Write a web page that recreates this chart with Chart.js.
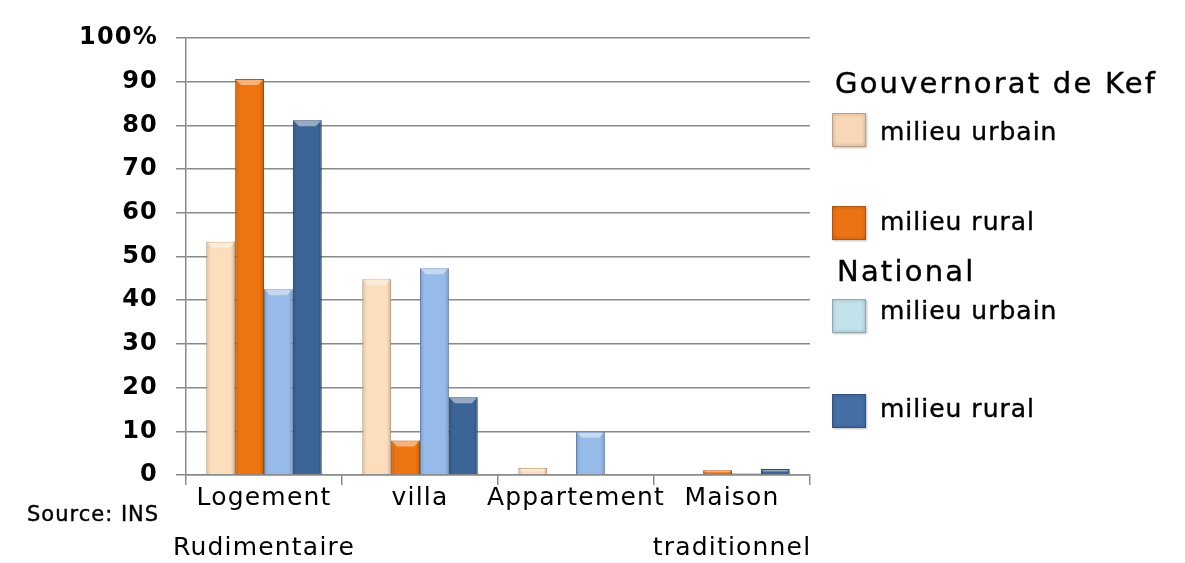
<!DOCTYPE html>
<html>
<head>
<meta charset="utf-8">
<script src="https://cdn.jsdelivr.net/npm/chart.js@4"></script>
<style>
  body { margin: 0; background: #fff; }
  #wrap { position: relative; width: 1185px; height: 563px; }
  #myChart { position: absolute; left: 0; top: 0; }
  .txt { position: absolute; color: #000; font-family: "DejaVu Sans", sans-serif; white-space: nowrap; -webkit-text-stroke: 0.4px #000; }
  .head { font-size: 29px; letter-spacing: 2.2px; }
  .item { font-size: 25px; letter-spacing: 1px; }
  .sw { position: absolute; width: 34px; height: 34px; box-sizing: border-box; border: 1px solid rgba(0,0,0,0.25);
        box-shadow: inset 0 0 4px rgba(0,0,0,0.2), 1px 1px 2px rgba(0,0,0,0.25); }
  #source { left: 27px; top: 502px; font-size: 21px; letter-spacing: 1px; }
</style>
</head>
<body>
<div id="wrap">
  <canvas id="myChart" width="1185" height="563"></canvas>
  <div class="txt head" style="left:835px; top:66px;">Gouvernorat de Kef</div>
  <div class="sw" style="left:832px; top:113px; background:#F8D7B6;"></div>
  <div class="txt item" style="left:880px; top:117px;">milieu urbain</div>
  <div class="sw" style="left:832px; top:206px; background:#EC7314;"></div>
  <div class="txt item" style="left:880px; top:207px;">milieu rural</div>
  <div class="txt head" style="left:837px; top:254px;">National</div>
  <div class="sw" style="left:832px; top:299px; background:#C3E3EC;"></div>
  <div class="txt item" style="left:880px; top:296px;">milieu urbain</div>
  <div class="sw" style="left:832px; top:394px; background:#4470A6;"></div>
  <div class="txt item" style="left:880px; top:394px;">milieu rural</div>
  <div class="txt" id="source">Source: INS</div>
</div>
<script>
const categories = [['Logement', 'Rudimentaire'], 'villa', 'Appartement', ['Maison', 'traditionnel']];
const kefUrbain = [53.4, 44.8, 1.6, 0];
const kefRural = [90.6, 7.9, 0, 1.1];
const natUrbain = [42.5, 47.3, 9.9, 0.4];
const natRural = [81.2, 17.8, 0, 1.4];
const yTicks = [0, 10, 20, 30, 40, 50, 60, 70, 80, 90, 100];

const ctx = document.getElementById('myChart').getContext('2d');

const bar = (label, data, fill, border) => ({
    label: label,
    data: data,
    backgroundColor: fill,
    borderColor: border,
    borderWidth: 1,
    categoryPercentage: 0.74,
    barPercentage: 1.0
});

// slightly wider text like the original, and a bevel look on the bars
const look = {
    id: 'look',
    beforeDraw: (chart) => { chart.ctx.letterSpacing = '1.2px'; },
    afterDatasetsDraw: (chart) => {
        const c = chart.ctx;
        c.save();
        chart.data.datasets.forEach((ds, i) => {
            chart.getDatasetMeta(i).data.forEach((el) => {
                const h = el.base - el.y;
                if (h < 2) return;
                const left = el.x - el.width / 2;
                const g = c.createLinearGradient(left, 0, left + el.width, 0);
                g.addColorStop(0, 'rgba(0,0,0,0.14)');
                g.addColorStop(0.15, 'rgba(0,0,0,0)');
                g.addColorStop(0.85, 'rgba(0,0,0,0)');
                g.addColorStop(1, 'rgba(0,0,0,0.18)');
                c.fillStyle = g;
                c.fillRect(left, el.y, el.width, h);
                const b = Math.min(6, h / 2);
                c.fillStyle = 'rgba(255,255,255,0.45)';
                c.beginPath();
                c.moveTo(left + 1, el.y + 1);
                c.lineTo(left + el.width - 1, el.y + 1);
                c.lineTo(left + el.width - b, el.y + b);
                c.lineTo(left + b, el.y + b);
                c.closePath();
                c.fill();
            });
        });
        c.restore();
    }
};

const myChart = new Chart(ctx, {
    type: 'bar',
    data: {
        labels: categories,
        datasets: [
            bar('Gouvernorat de Kef - milieu urbain', kefUrbain, '#FCDDBC', '#D8B48E'),
            bar('Gouvernorat de Kef - milieu rural', kefRural, '#EE7410', '#B85A0C'),
            bar('National - milieu urbain', natUrbain, '#96BAEA', '#6E93C3'),
            bar('National - milieu rural', natRural, '#3B6596', '#2A4A70')
        ]
    },
    plugins: [look],
    options: {
        responsive: false,
        animation: false,
        layout: { padding: { left: 0, right: 375, top: 38, bottom: 0 } },
        plugins: { legend: { display: false }, tooltip: { enabled: false } },
        scales: {
            x: {
                offset: true,
                grid: { offset: true, drawOnChartArea: false, drawTicks: true, tickLength: 10, color: '#8a8a8a', lineWidth: 1.5 },
                border: { color: '#8a8a8a', width: 1.5 },
                ticks: {
                    color: '#000',
                    padding: -12,
                    maxRotation: 0,
                    autoSkip: false,
                    font: { family: 'DejaVu Sans', size: 25, lineHeight: 2 }
                },
                afterFit: (scale) => { scale.height = 88; }
            },
            y: {
                min: 0,
                max: 100,
                afterBuildTicks: (scale) => { scale.ticks = yTicks.map(v => ({ value: v })); },
                grid: { color: '#8a8a8a', lineWidth: 1.5, tickLength: 10 },
                border: { color: '#8a8a8a', width: 1.5 },
                ticks: {
                    color: '#000',
                    padding: 18,
                    font: { family: 'DejaVu Sans', size: 24, weight: 'bold' },
                    callback: (v) => v === 100 ? '100%' : v
                },
                afterFit: (scale) => { scale.width = 186; }
            }
        }
    }
});
</script>
</body>
</html>
